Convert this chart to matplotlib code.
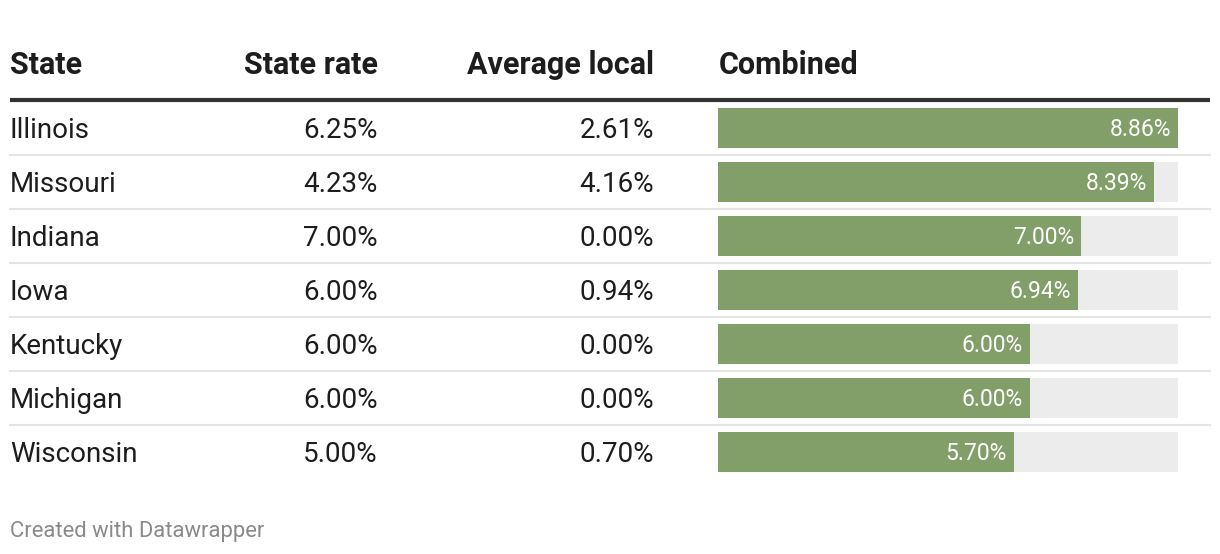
import matplotlib.pyplot as plt

# data
states = ["Illinois", "Missouri", "Indiana", "Iowa", "Kentucky", "Michigan", "Wisconsin"]
state_rate = [6.25, 4.23, 7.00, 6.00, 6.00, 6.00, 5.00]
avg_local = [2.61, 4.16, 0.00, 0.94, 0.00, 0.00, 0.70]
combined = [8.86, 8.39, 7.00, 6.94, 6.00, 6.00, 5.70]
headers = ["State", "State rate", "Average local", "Combined"]

W, H = 1220, 554
plt.rcParams['font.family'] = ['Roboto', 'DejaVu Sans']

fig = plt.figure(figsize=(W / 100, H / 100), dpi=100)

# main axes in pixel coordinates for the table
ax = fig.add_axes([0, 0, 1, 1])
ax.set_xlim(0, W)
ax.set_ylim(H, 0)
ax.axis("off")

row0 = 128
pitch = 54
txt = "#1d1d1d"

# headers
hy = 65
ax.text(10, hy, headers[0], fontsize=22, fontweight="bold", color=txt, va="center", ha="left")
ax.text(378, hy, headers[1], fontsize=22, fontweight="bold", color=txt, va="center", ha="right")
ax.text(654, hy, headers[2], fontsize=22, fontweight="bold", color=txt, va="center", ha="right")
ax.text(719, hy, headers[3], fontsize=22, fontweight="bold", color=txt, va="center", ha="left")
ax.plot([10, 1210], [100, 100], color="#333333", lw=3, solid_capstyle="butt")

for i, s in enumerate(states):
    y = row0 + pitch * i
    ax.text(10, y + 2, s, fontsize=20, color=txt, va="center", ha="left")
    ax.text(378, y + 2, f"{state_rate[i]:.2f}%", fontsize=20, color=txt, va="center", ha="right")
    ax.text(654, y + 2, f"{avg_local[i]:.2f}%", fontsize=20, color=txt, va="center", ha="right")
    if i < len(states) - 1:
        ax.plot([10, 1210], [y + 27, y + 27], color="#e5e5e5", lw=1.5)

ax.text(10, 531, "Created with Datawrapper", fontsize=15.8, color="#8a8a8a", va="center", ha="left")

# bar axes
top = 101
bottom = top + pitch * len(states)
bx = fig.add_axes([718 / W, 1 - bottom / H, 460 / W, (bottom - top) / H])
bx.set_xlim(0, max(combined))
bx.set_ylim(len(states) - 0.5, -0.5)
bx.axis("off")
ypos = list(range(len(states)))
bx.barh(ypos, [max(combined)] * len(states), height=40 / pitch, color="#ececec")
bx.barh(ypos, combined, height=40 / pitch, color="#829f6a")
for i, v in enumerate(combined):
    bx.annotate(f"{v:.2f}%", (v, i), xytext=(-5, -1), textcoords="offset points",
                ha="right", va="center", fontsize=16.5, color="white")

fig.savefig("out.png", dpi=100)
